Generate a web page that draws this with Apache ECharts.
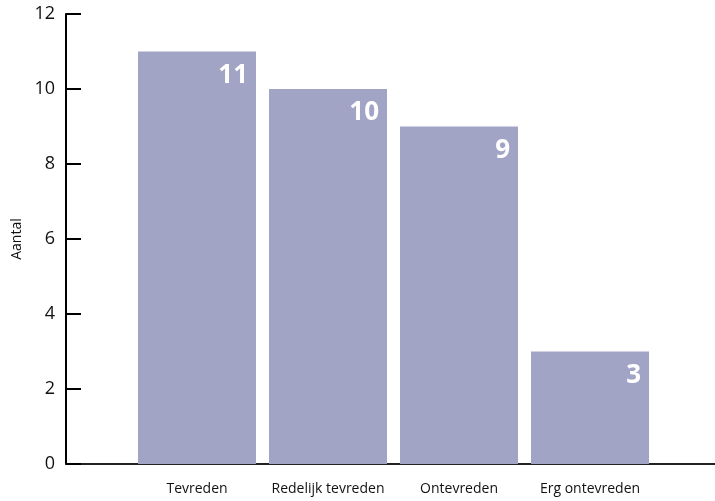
<!DOCTYPE html>
<html><head><meta charset="utf-8">
<script src="https://cdn.jsdelivr.net/npm/echarts@6/dist/echarts.min.js"></script>
<style>html,body{margin:0;padding:0;background:#fff}#c{width:715px;height:501px}</style>
</head><body><div id="c"></div>
<script>
var categories = ['Tevreden', 'Redelijk tevreden', 'Ontevreden', 'Erg ontevreden'];
var values = [11, 10, 9, 3];
var yTicks = { min: 0, max: 12, interval: 2 };

var chart = echarts.init(document.getElementById('c'));
var data = values.map(function (v, i) { return [i + 1, v]; });
chart.setOption({
  animation: false,
  grid: { left: 66, right: 0, top: 14, bottom: 37 },
  xAxis: {
    type: 'value', min: 0, max: 4.954, interval: 1,
    splitLine: { show: false },
    axisTick: { show: false },
    axisLine: { show: true, onZero: false, lineStyle: { color: '#222', width: 2 } },
    axisLabel: {
      showMaxLabel: false, margin: 18, fontSize: 14, color: '#111',
      fontFamily: 'Open Sans',
      formatter: function (v) { return categories[Math.round(v) - 1] || ''; }
    }
  },
  yAxis: {
    type: 'value', min: yTicks.min, max: yTicks.max, interval: yTicks.interval,
    name: 'Aantal', nameLocation: 'middle', nameGap: 40, nameRotate: 90,
    nameTextStyle: { fontSize: 14, color: '#111', fontFamily: 'Open Sans' },
    splitLine: { show: false },
    axisLine: { show: true, lineStyle: { color: '#000', width: 2 } },
    axisTick: { show: true, inside: true, length: 15, lineStyle: { color: '#000', width: 2 } },
    axisLabel: { fontSize: 18, color: '#111', margin: 11, fontFamily: 'Open Sans' }
  },
  series: [{
    type: 'bar', data: data, barWidth: 118,
    itemStyle: { color: '#a2a4c6' },
    label: {
      show: true, position: 'insideTopRight', distance: 8, offset: [0, 3],
      color: '#fff', fontSize: 26, fontWeight: 'bold', fontFamily: 'Open Sans',
      formatter: function (p) { return p.value[1]; }
    }
  }]
});
</script></body></html>
